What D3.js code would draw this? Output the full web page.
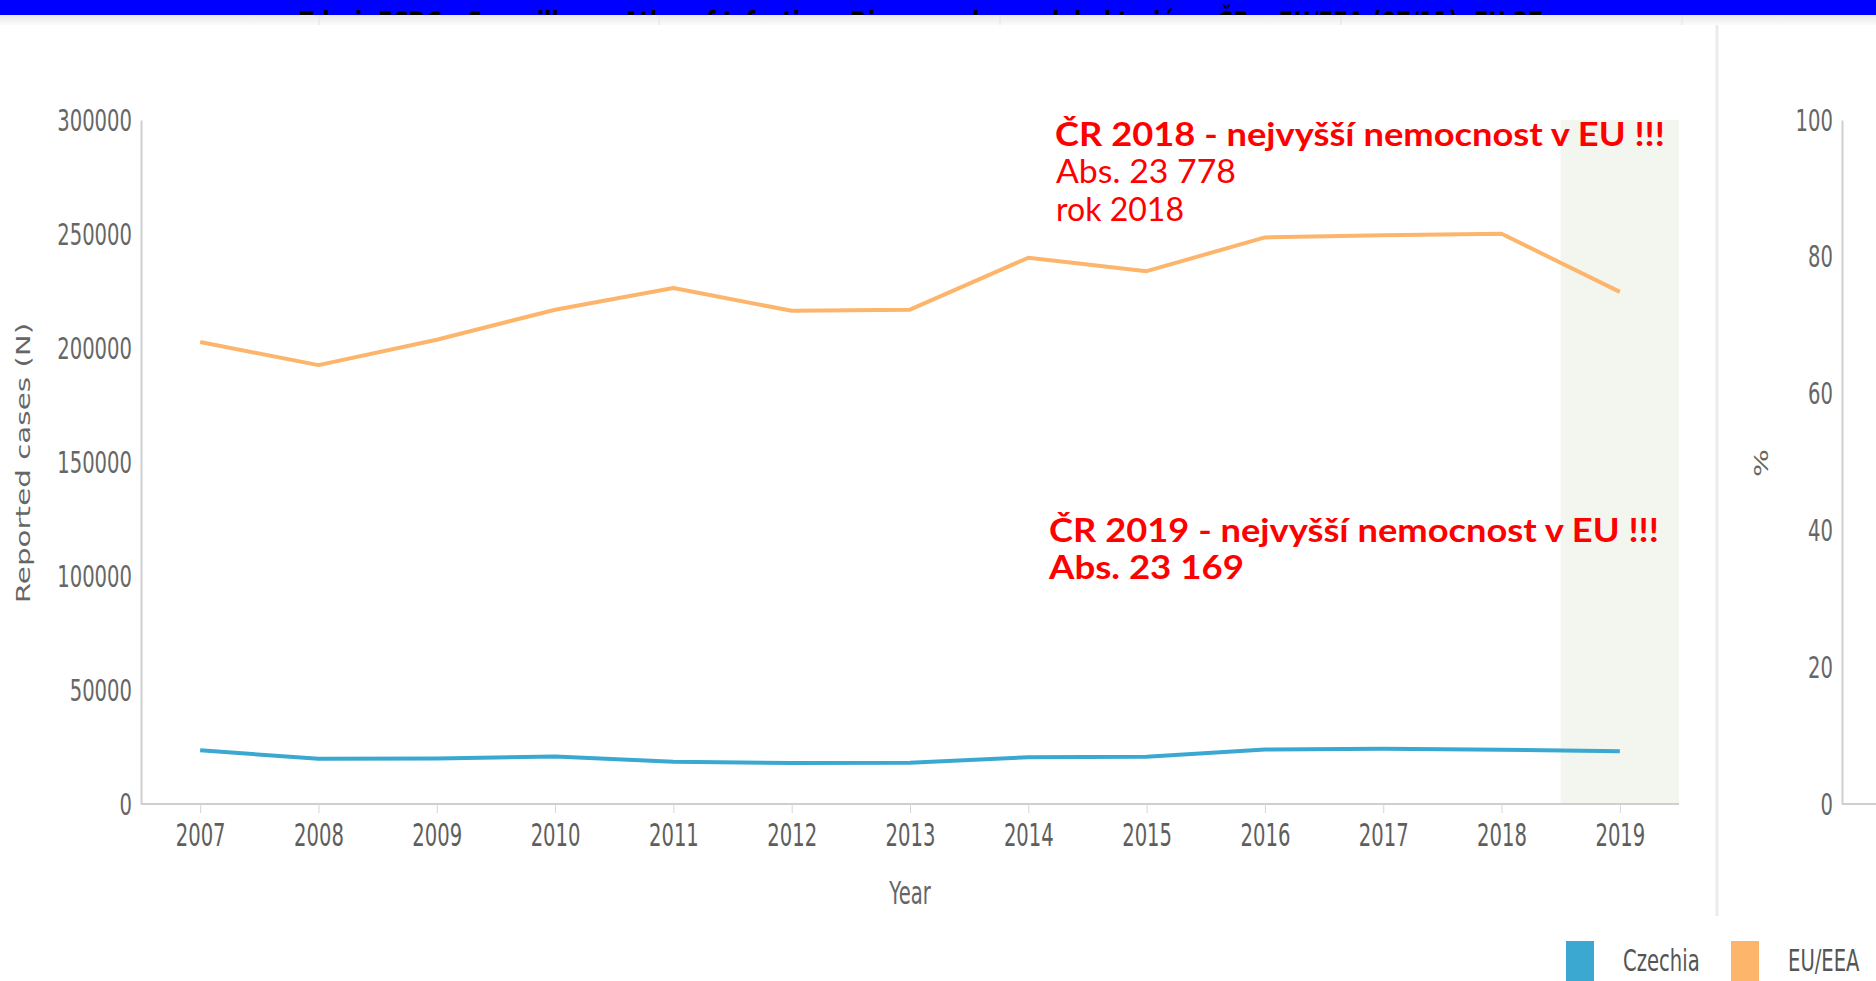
<!DOCTYPE html>
<html>
<head>
<meta charset="utf-8">
<script src="https://cdn.jsdelivr.net/npm/d3@7"></script>
<style>
  html, body { margin: 0; padding: 0; background: #ffffff; }
  svg { display: block; }
</style>
</head>
<body>
<svg id="chart" width="1876" height="981"></svg>
<script>
// Reported campylobacteriosis cases, Czechia vs EU/EEA
const years = [2007, 2008, 2009, 2010, 2011, 2012, 2013, 2014, 2015, 2016, 2017, 2018, 2019];
const czechia = [23600, 19800, 20000, 20800, 18500, 18000, 18100, 20500, 20700, 23900, 24200, 23778, 23169];
const euEea = [202600, 192500, 203600, 216800, 226300, 216300, 216800, 239600, 233700, 248500, 249500, 250100, 224600];
const leftTicks = [0, 50000, 100000, 150000, 200000, 250000, 300000];
const rightTicks = [0, 20, 40, 60, 80, 100];
const seriesNames = ["Czechia", "EU/EEA"];
const seriesColors = ["#3aa8d0", "#fdb56c"];
const highlightYear = 2019;
const notes2018 = ["ČR  2018 - nejvyšší nemocnost v EU !!!", "Abs. 23 778", "rok 2018"];
const notes2019 = ["ČR  2019 - nejvyšší nemocnost v EU !!!", "Abs. 23 169"];
const headerText = "Zdroj: ECDC – Surveillance Atlas of Infectious Diseases, kampylobakterióza, ČR a EU/EEA (07/11), EU 27";

const svg = d3.select("#chart");
const W = 1876, H = 981;
const plot = { left: 141, right: 1679, top: 120, bottom: 804 };
const axisFont = "'DejaVu Sans', Verdana, sans-serif";
const grey = "#666666";
const noteFont = "'Comic Sans MS', 'Lato', 'DejaVu Sans', sans-serif";

// header strip
const defs = svg.append("defs");
defs.append("clipPath").attr("id", "hdrClip")
  .append("rect").attr("x", 0).attr("y", 0).attr("width", W).attr("height", 15);
const grad = defs.append("linearGradient").attr("id", "bandGrad")
  .attr("x1", 0).attr("y1", 0).attr("x2", 0).attr("y2", 1);
grad.append("stop").attr("offset", "0%").attr("stop-color", "#e9e9e9");
grad.append("stop").attr("offset", "100%").attr("stop-color", "#fbfbfb");

svg.append("rect").attr("x", 0).attr("y", 0).attr("width", W).attr("height", 15).attr("fill", "#0000ff");
svg.append("text").attr("clip-path", "url(#hdrClip)")
  .attr("x", 299).attr("y", 33)
  .attr("textLength", 1244).attr("lengthAdjust", "spacingAndGlyphs")
  .attr("font-family", axisFont).attr("font-weight", "bold").attr("font-size", 30)
  .attr("fill", "#000").text(headerText);
svg.append("rect").attr("x", 0).attr("y", 15).attr("width", W).attr("height", 10).attr("fill", "url(#bandGrad)");
[319, 659, 1000, 1341, 1682].forEach(x => {
  svg.append("line").attr("x1", x).attr("x2", x).attr("y1", 15).attr("y2", 25)
    .attr("stroke", "#e2e2e2").attr("stroke-width", 1);
});

// divider between the main panel and the percentage panel
svg.append("line").attr("x1", 1717).attr("x2", 1717).attr("y1", 25).attr("y2", 916)
  .attr("stroke", "#ebebeb").attr("stroke-width", 3);

// scales
const x = d3.scalePoint().domain(years).range([plot.left, plot.right]).padding(0.5);
const y = d3.scaleLinear().domain([0, 300000]).range([plot.bottom, plot.top]);
const yPct = d3.scaleLinear().domain([0, 100]).range([plot.bottom, plot.top]);

// highlighted final year band
const step = x.step();
svg.append("rect")
  .attr("x", x(highlightYear) - step / 2).attr("y", plot.top)
  .attr("width", plot.right - (x(highlightYear) - step / 2)).attr("height", plot.bottom - plot.top)
  .attr("fill", "#f3f6ef");

// left axis
const gy = svg.append("g").attr("transform", `translate(${plot.left},0)`)
  .call(d3.axisLeft(y).tickValues(leftTicks).tickSize(0).tickPadding(9).tickFormat(d3.format("d")));
gy.select(".domain").attr("stroke", "#cfcfcf").attr("stroke-width", 2);
gy.selectAll(".tick text").attr("font-family", axisFont).attr("font-size", 19.6).attr("fill", grey)
  .attr("dy", null).attr("dominant-baseline", "central").attr("x", 0)
  .attr("transform", "translate(-9,0) scale(1,1.5)");

// bottom axis
const gx = svg.append("g").attr("transform", `translate(0,${plot.bottom})`)
  .call(d3.axisBottom(x).tickSize(9).tickPadding(0).tickFormat(d3.format("d")));
gx.select(".domain").attr("stroke", "#cfcfcf").attr("stroke-width", 2)
  .attr("d", `M${plot.left},0H${plot.right}`);
gx.selectAll(".tick line").attr("stroke", "#d6d6d6");
gx.selectAll(".tick text").attr("font-family", axisFont).attr("font-size", 19.6).attr("fill", "#5e5e5e")
  .attr("y", null).attr("dy", null)
  .attr("transform", "translate(0,42) scale(1,1.65)");

// right percentage axis
const gr = svg.append("g").attr("transform", "translate(1842,0)")
  .call(d3.axisLeft(yPct).tickValues(rightTicks).tickSize(0).tickPadding(9));
gr.select(".domain").attr("stroke", "#cfcfcf").attr("stroke-width", 2);
gr.selectAll(".tick text").attr("font-family", axisFont).attr("font-size", 19.6).attr("fill", grey)
  .attr("dy", null).attr("dominant-baseline", "central").attr("x", 0)
  .attr("transform", "translate(-9,0) scale(1,1.5)");
svg.append("line").attr("x1", 1842).attr("x2", W).attr("y1", plot.bottom).attr("y2", plot.bottom)
  .attr("stroke", "#cfcfcf").attr("stroke-width", 2);

// axis titles
svg.append("text").attr("transform", "translate(30,463) rotate(-90) scale(1.5,1)")
  .attr("text-anchor", "middle").attr("font-family", axisFont).attr("font-size", 19.6)
  .attr("fill", grey).text("Reported cases (N)");
svg.append("text").attr("transform", "translate(1768,463) rotate(-90) scale(1.5,1)")
  .attr("text-anchor", "middle").attr("font-family", axisFont).attr("font-size", 19.6)
  .attr("fill", grey).text("%");
svg.append("text").attr("transform", "translate(910,904) scale(1,1.6)")
  .attr("text-anchor", "middle").attr("font-family", axisFont).attr("font-size", 19.6)
  .attr("fill", grey).text("Year");

// series lines
const line = d3.line().x((d, i) => x(years[i])).y(d => y(d)).curve(d3.curveLinear);
[euEea, czechia].forEach((vals, k) => {
  svg.append("path").datum(vals)
    .attr("d", line)
    .attr("fill", "none")
    .attr("stroke", k === 0 ? seriesColors[1] : seriesColors[0])
    .attr("stroke-width", 4)
    .attr("stroke-linejoin", "round")
    .attr("stroke-linecap", "butt");
});

// annotations
const n1 = svg.append("g").attr("fill", "#ff0000").attr("font-family", noteFont);
n1.append("text").attr("x", 1055).attr("y", 146).attr("font-size", 32).attr("font-weight", "bold")
  .attr("textLength", 610).attr("lengthAdjust", "spacingAndGlyphs").text(notes2018[0]);
n1.append("text").attr("x", 1056).attr("y", 183).attr("font-size", 32)
  .attr("textLength", 180).attr("lengthAdjust", "spacingAndGlyphs").text(notes2018[1]);
n1.append("text").attr("x", 1056).attr("y", 221).attr("font-size", 32)
  .attr("textLength", 128).attr("lengthAdjust", "spacingAndGlyphs").text(notes2018[2]);
n1.append("text").attr("x", 1049).attr("y", 542).attr("font-size", 32).attr("font-weight", "bold")
  .attr("textLength", 610).attr("lengthAdjust", "spacingAndGlyphs").text(notes2019[0]);
n1.append("text").attr("x", 1049).attr("y", 579).attr("font-size", 32).attr("font-weight", "bold")
  .attr("textLength", 195).attr("lengthAdjust", "spacingAndGlyphs").text(notes2019[1]);

// legend
const legendX = [1566, 1731];
seriesNames.forEach((name, i) => {
  svg.append("rect").attr("x", legendX[i]).attr("y", 941).attr("width", 28).attr("height", 42)
    .attr("fill", seriesColors[i]);
  svg.append("text").attr("transform", `translate(${legendX[i] + 57},961) scale(1,1.5)`)
    .attr("dominant-baseline", "central")
    .attr("font-family", axisFont).attr("font-size", 19.6).attr("fill", "#555").text(name);
});
</script>
</body>
</html>
